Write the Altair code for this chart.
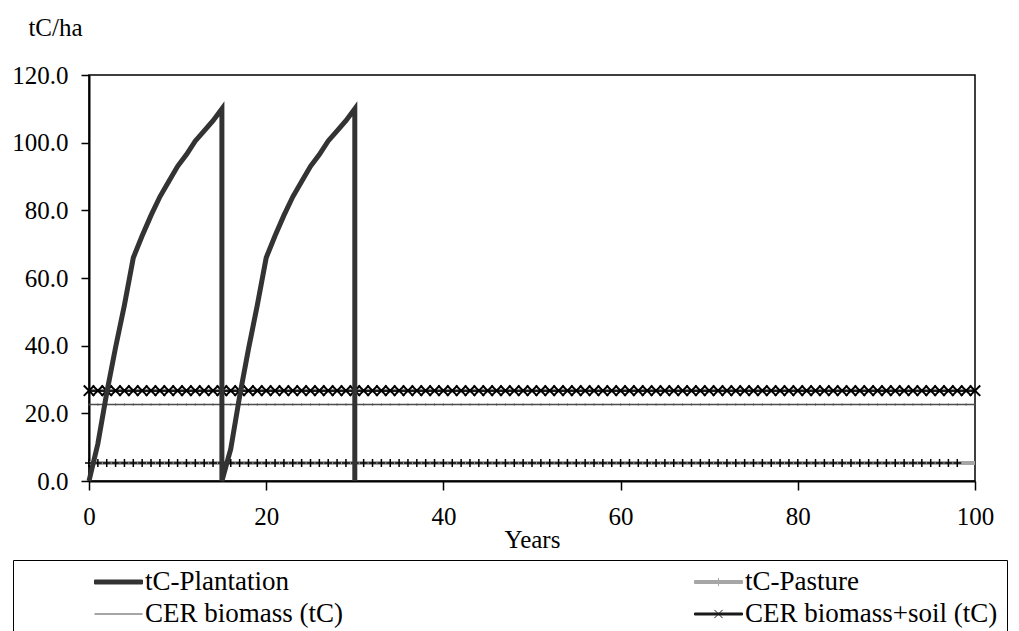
import altair as alt
import pandas as pd

# ---------------- data ----------------
series_names = ["tC-Plantation", "tC-Pasture", "CER biomass (tC)", "CER biomass+soil (tC)"]
series_colors = ["#333333", "#a6a6a6", "#4d4d4d", "#1a1a1a"]
series_widths = [5, 4, 1.4, 2.5]

# plantation: two 15-year rotations, harvested (drop to 0) at year 15 and year 30
plant_years = [0, 1, 2, 3, 4, 5, 6, 7, 8, 9, 10, 11, 12, 13, 14, 15,
               15, 16, 17, 18, 19, 20, 21, 22, 23, 24, 25, 26, 27, 28, 29, 30,
               30]
plant_values = [0.0, 11.0, 26.0, 39.5, 52.0, 66.0, 72.5, 78.5, 84.0, 88.5, 93.0, 96.5, 100.5, 103.5, 106.5, 110.0,
                0.0, 9.5, 25.0, 39.0, 52.0, 66.0, 72.5, 78.5, 84.0, 88.5, 93.0, 96.5, 100.5, 103.5, 106.5, 110.0,
                0.0]

years = list(range(0, 101))            # yearly categories on the x axis
pasture_marker_years = list(range(0, 99))
pasture_level = 5.3
cer_biomass_level = 22.6
cer_soil_level = 26.7

x_ticks = [0, 20, 40, 60, 80, 100]
y_ticks = [0, 20, 40, 60, 80, 100, 120]

FONT = "Times New Roman, Liberation Serif, serif"

# legend symbols: a bar of the series' line thickness, with the series' marker in its middle
SYM_PLANT = "M-1,-0.083L1,-0.083L1,0.083L-1,0.083Z"
SYM_PASTURE = "M-1,-0.0625L1,-0.0625L1,0.0625L-1,0.0625ZM0,-0.17L0,0.17"
SYM_BIO = "M-1,0L1,0"
SYM_SOIL = "M-1,-0.042L1,-0.042L1,0.042L-1,0.042ZM-0.17,-0.17L0.17,0.17M-0.17,0.17L0.17,-0.17"
legend_shapes = [SYM_PLANT, SYM_PASTURE, SYM_BIO, SYM_SOIL]

# ---------------- tables ----------------
rows = []
for i, y in enumerate(years):
    rows.append({"series": "tC-Pasture", "year": y, "value": pasture_level, "ord": i})
for i, y in enumerate(years):
    rows.append({"series": "CER biomass (tC)", "year": y, "value": cer_biomass_level, "ord": i})
for i, y in enumerate(years):
    rows.append({"series": "CER biomass+soil (tC)", "year": y, "value": cer_soil_level, "ord": i})
for i, (y, v) in enumerate(zip(plant_years, plant_values)):
    rows.append({"series": "tC-Plantation", "year": y, "value": v, "ord": i})
lines_df = pd.DataFrame(rows)
legend_df = lines_df.groupby("series", as_index=False).first()

pasture_pts = pd.DataFrame({"year": pasture_marker_years, "value": [pasture_level] * len(pasture_marker_years)})
soil_pts = pd.DataFrame({"year": years, "value": [cer_soil_level] * len(years)})
bio_pts = pd.DataFrame({"year": years, "value": [cer_biomass_level] * len(years)})

# ---------------- scales / axes ----------------
x_scale = alt.Scale(domain=[0, 100], nice=False, zero=False)
y_scale = alt.Scale(domain=[0, 120], nice=False)

x_axis = alt.Axis(
    values=x_ticks, format="d", title="Years", grid=False,
    labelFont=FONT, labelFontSize=25, labelColor="black", labelPadding=14, labelFlush=False,
    tickSize=9, tickColor="black", tickWidth=1.5,
    domainColor="black", domainWidth=2,
    titleFont=FONT, titleFontSize=25, titleFontWeight="normal", titleColor="black",
    titleY=58, titleBaseline="middle",
)
y_axis = alt.Axis(
    values=y_ticks, format=".1f", title="tC/ha", grid=False,
    labelFont=FONT, labelFontSize=25, labelColor="black", labelPadding=13,
    tickSize=8, tickColor="black", tickWidth=1.5,
    domainColor="black", domainWidth=2,
    titleFont=FONT, titleFontSize=25, titleFontWeight="normal", titleColor="black",
    titleAngle=0, titleX=-34, titleY=-48, titleAlign="center", titleBaseline="middle",
)

legend = alt.Legend(
    title=" ", titleOrient="left", titleFontSize=1, titlePadding=72,
    orient="none", legendX=-76, legendY=485, direction="horizontal",
    columns=2, columnPadding=350, rowPadding=5, clipHeight=26,
    symbolSize=2304, symbolOpacity=1, symbolStrokeWidth=1, labelOffset=2,
    labelFont=FONT, labelFontSize=27, labelColor="black", labelLimit=500,
    strokeColor="black", padding=9,
)

XS = alt.X("year:Q", scale=x_scale)
YS = alt.Y("value:Q", scale=y_scale)

# axes carrier (invisible)
base = alt.Chart(legend_df).mark_point(opacity=0).encode(
    x=alt.X("year:Q", scale=x_scale, axis=x_axis),
    y=alt.Y("value:Q", scale=y_scale, axis=y_axis),
)

def series_line(name):
    i = series_names.index(name)
    return alt.Chart(lines_df).transform_filter(alt.datum.series == name).mark_line(
        color=series_colors[i], strokeWidth=series_widths[i]
    ).encode(x=XS, y=YS, order="ord:Q")

bio_ticks = alt.Chart(bio_pts).mark_point(
    shape="M0,-1L0,1", size=4, filled=False, stroke="#4d4d4d", strokeWidth=1, opacity=1
).encode(x=XS, y=YS)

pasture_marks = alt.Chart(pasture_pts).mark_point(
    shape="M-1,0L1,0M0,-1L0,1", size=64, filled=False, stroke="black", strokeWidth=1.5, opacity=1
).encode(x=XS, y=YS)

soil_marks = alt.Chart(soil_pts).mark_point(
    shape="M-1,-1L1,1M-1,1L1,-1", size=110, filled=False, stroke="black", strokeWidth=2, opacity=1
).encode(x=XS, y=YS)

# invisible points that only carry the legend (line + marker symbols)
color_scale = alt.Scale(domain=series_names, range=series_colors)
legend_layer = alt.Chart(legend_df).mark_point(filled=True, opacity=0).encode(
    x=XS, y=YS,
    fill=alt.Fill("series:N", scale=color_scale, legend=legend),
    stroke=alt.Stroke("series:N", scale=color_scale, legend=legend),
    shape=alt.Shape("series:N", scale=alt.Scale(domain=series_names, range=legend_shapes), legend=legend),
)

chart = alt.layer(
    base,
    series_line("tC-Pasture"),
    series_line("CER biomass (tC)"),
    series_line("CER biomass+soil (tC)"),
    bio_ticks, pasture_marks, soil_marks,
    series_line("tC-Plantation"),
    legend_layer,
).properties(
    width=886, height=406,
    autosize=alt.AutoSizeParams(type="none"),
    padding={"left": 89, "top": 75, "right": 44, "bottom": 150},
    background="white",
).configure(font=FONT).configure_view(stroke="black", strokeWidth=1.5)

chart.save("out.html", embed_options={"renderer": "svg", "actions": False})
